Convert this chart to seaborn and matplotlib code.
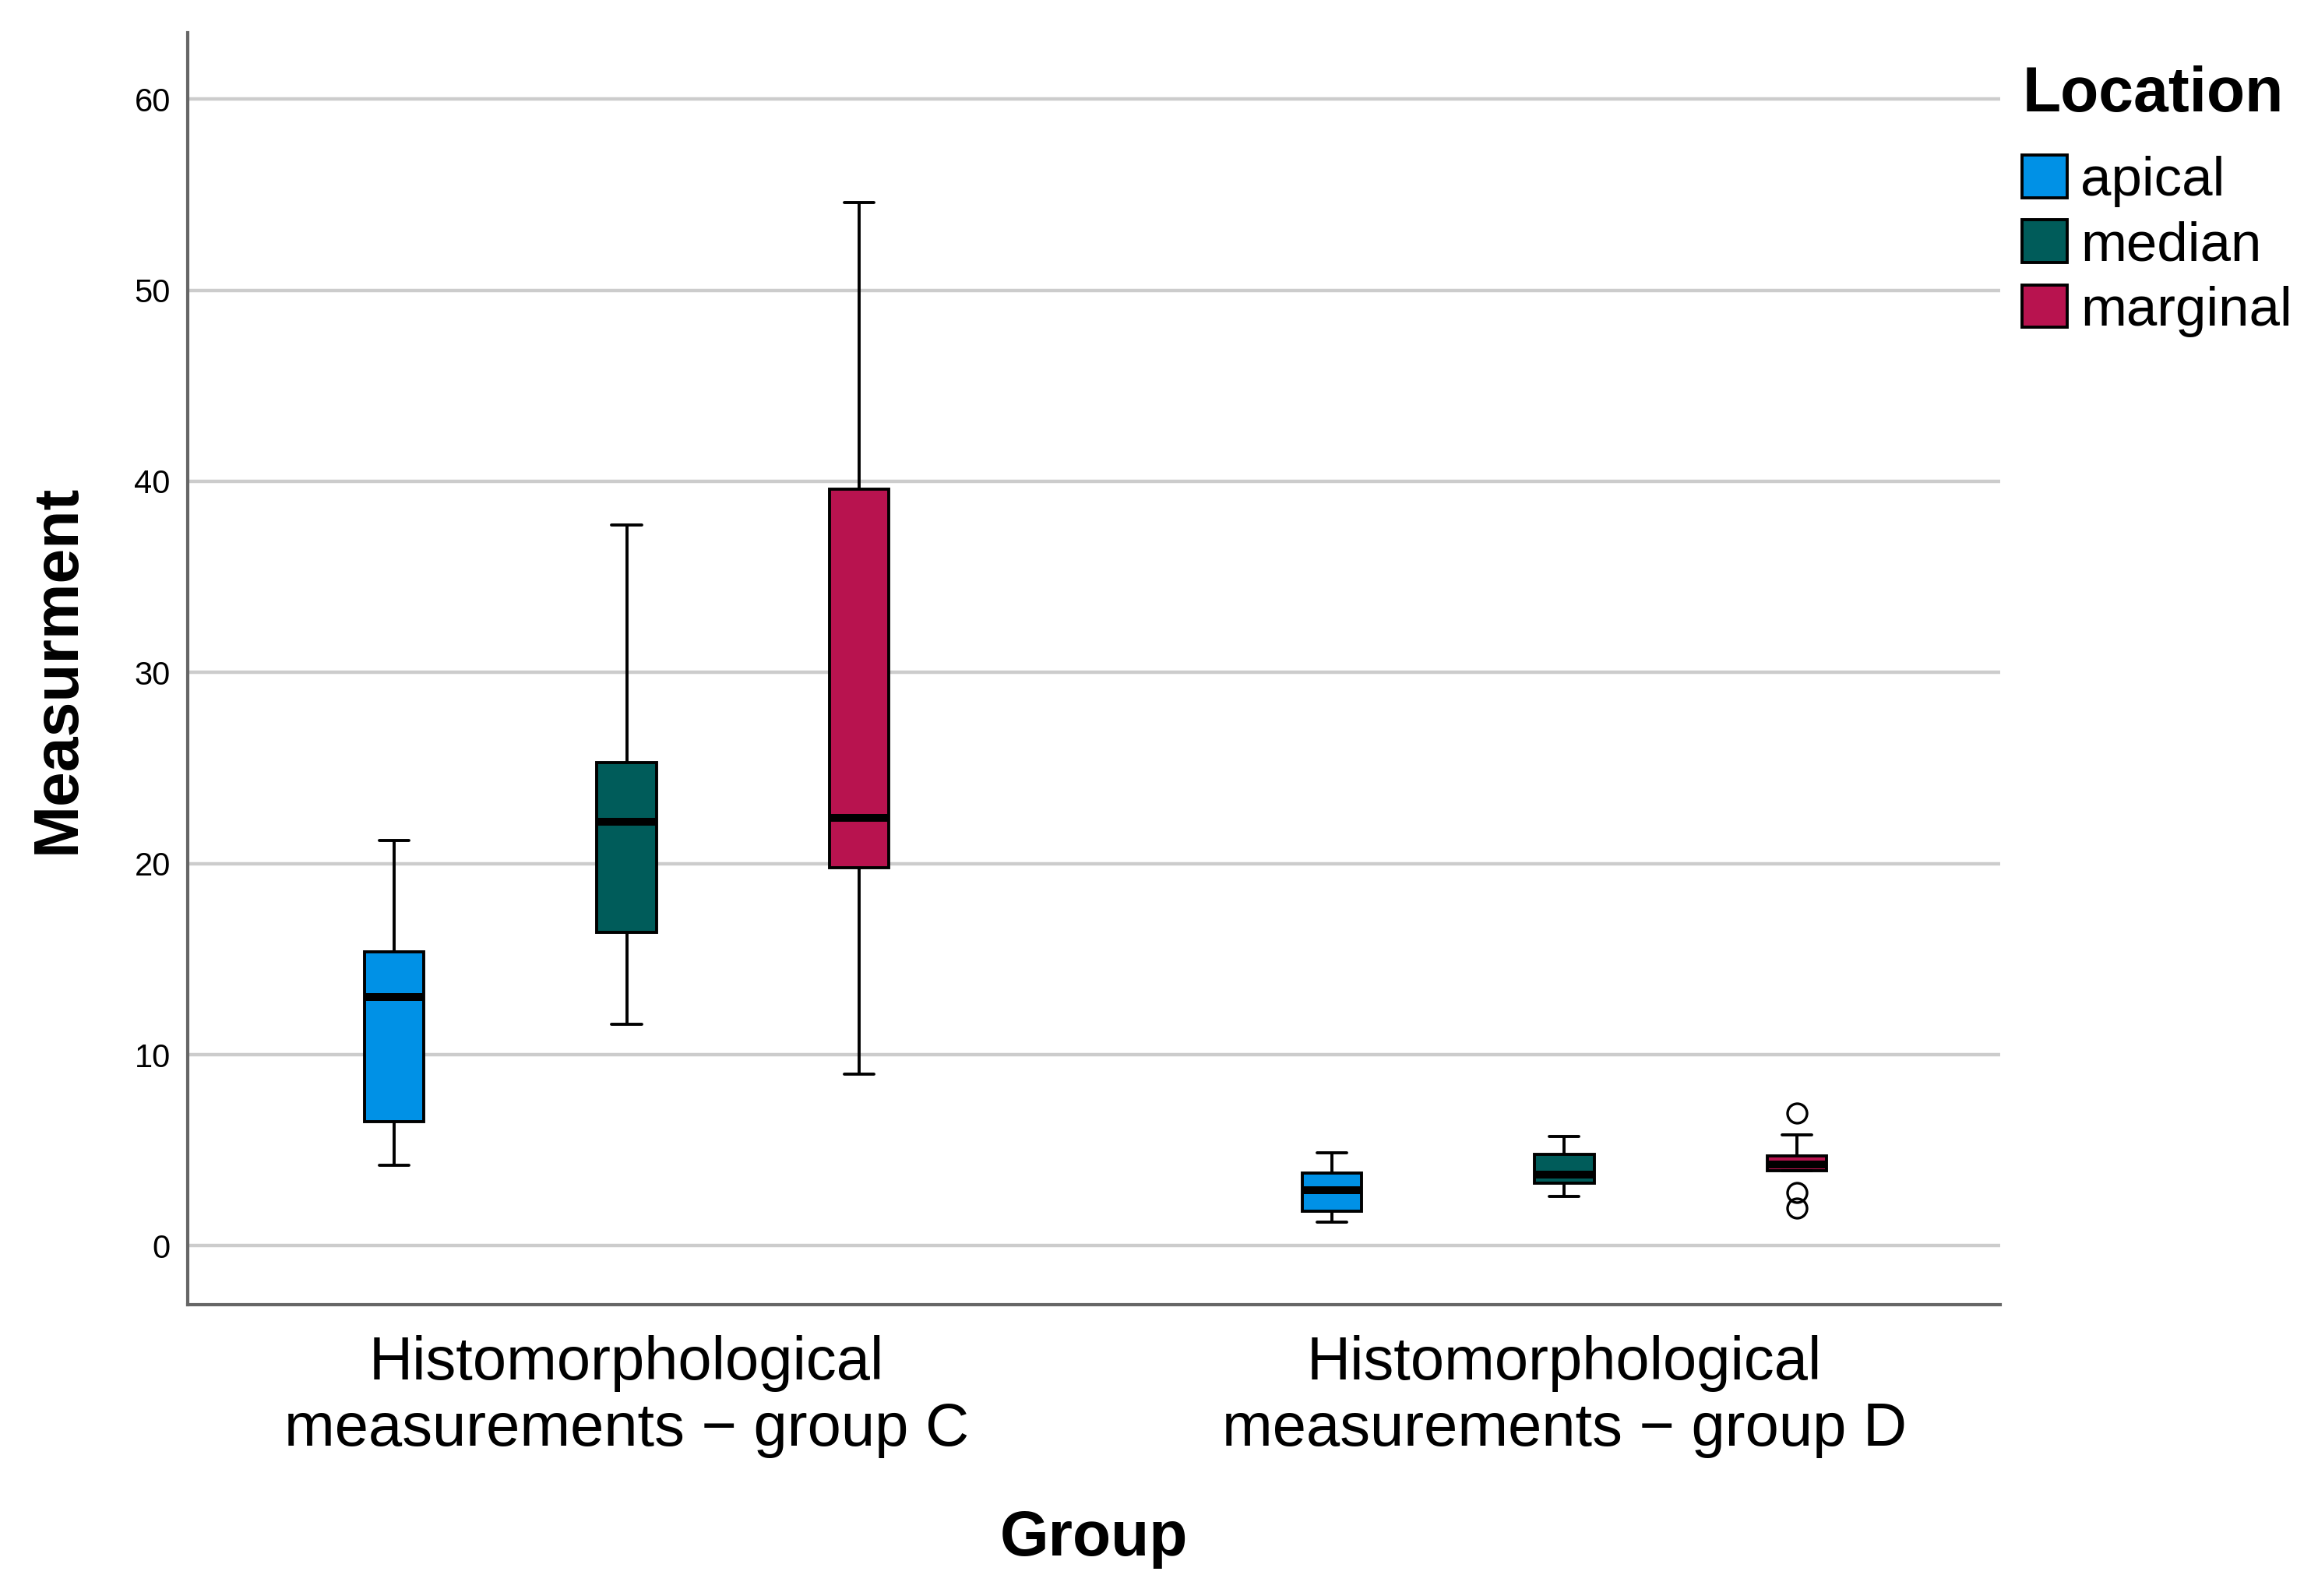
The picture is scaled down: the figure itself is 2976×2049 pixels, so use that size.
import matplotlib
matplotlib.use("Agg")
import matplotlib.pyplot as plt
import seaborn as sns
import pandas as pd

groups = ["Histomorphological\nmeasurements \u2212 group C",
          "Histomorphological\nmeasurements \u2212 group D"]
locations = ["apical", "median", "marginal"]
colors = ["#0091e6", "#005c5a", "#b8134f"]

# values, one list per box
c_apical = [4.2, 6.5, 13.0, 15.4, 21.2]
c_median = [11.6, 16.4, 22.2, 25.3, 37.7]
c_marginal = [9.0, 19.8, 22.4, 39.6, 54.6]
d_apical = [1.26, 1.81, 2.93, 3.79, 4.85]
d_median = [2.57, 3.26, 3.71, 4.8, 5.74]
d_marginal = [1.96, 2.78, 3.95, 4.1, 4.25, 4.5, 4.7, 5.79, 6.95]

boxes = {
    (groups[0], "apical"): c_apical,
    (groups[0], "median"): c_median,
    (groups[0], "marginal"): c_marginal,
    (groups[1], "apical"): d_apical,
    (groups[1], "median"): d_median,
    (groups[1], "marginal"): d_marginal,
}
rows = [(g, loc, v) for (g, loc), vals in boxes.items() for v in vals]
df = pd.DataFrame(rows, columns=["Group", "Location", "Measurment"])

sns.set_style("white")
plt.rcParams["font.family"] = ["Liberation Sans", "DejaVu Sans"]
plt.rcParams["text.color"] = "black"
plt.rcParams["axes.labelcolor"] = "black"
plt.rcParams["xtick.color"] = "black"
plt.rcParams["ytick.color"] = "black"

fig = plt.figure(figsize=(14.88, 10.245), dpi=200)
ax = fig.add_axes([0.081, 0.1824, 0.782, 0.7972])

sns.boxplot(data=df, x="Group", y="Measurment", hue="Location",
            order=groups, hue_order=locations, palette=colors, saturation=1,
            width=0.744, gap=0.745, linecolor="black", linewidth=1.4,
            medianprops=dict(color="black", linewidth=3.6),
            flierprops=dict(marker="o", markerfacecolor="none",
                            markeredgecolor="black", markersize=9,
                            markeredgewidth=1.2),
            ax=ax)

ax.set_ylim(-3.09, 63.48)
ax.set_xlim(-0.468, 1.465)
ax.set_yticks([0, 10, 20, 30, 40, 50, 60])
ax.yaxis.grid(True, color="#cccccc", linewidth=1.6)
ax.set_axisbelow(True)
ax.tick_params(axis="y", length=0, pad=8, labelsize=15)
ax.tick_params(axis="x", length=0, pad=14, labelsize=28)

for side in ["top", "right"]:
    ax.spines[side].set_visible(False)
for side in ["left", "bottom"]:
    ax.spines[side].set_color("#666666")
    ax.spines[side].set_linewidth(1.5)

ax.set_xlabel("Group", fontsize=29, fontweight="bold")
ax.set_ylabel("Measurment", fontsize=29, fontweight="bold")
ax.xaxis.set_label_coords(0.5, -0.161)
ax.yaxis.set_label_coords(-0.055, 0.5)

sns.move_legend(ax, "upper left", bbox_to_anchor=(1.012, 0.974), frameon=False,
                title="Location", fontsize=25.5, handlelength=0.81,
                handleheight=0.81, handletextpad=0.25, labelspacing=0.23,
                borderpad=0, borderaxespad=0)
leg = ax.get_legend()
leg.get_title().set_fontsize(29)
leg.get_title().set_fontweight("bold")
leg._legend_box.align = "left"
leg._legend_box.sep = 14  # gap between title and entries

fig.savefig("out.png", dpi=200)
